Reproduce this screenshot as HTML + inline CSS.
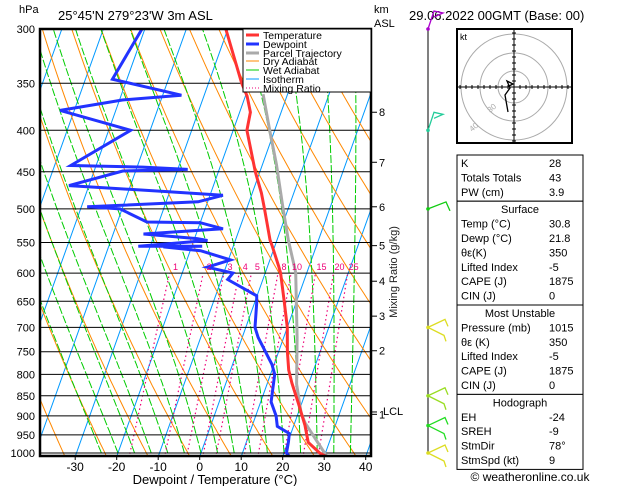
<!DOCTYPE html>
<html><head><meta charset="utf-8"><style>
body{margin:0;background:#fff}
svg{display:block;font-family:"Liberation Sans",sans-serif}
</style></head><body>
<svg id="c" width="629" height="486" viewBox="0 0 629 486">
<defs><clipPath id="pc"><rect x="40" y="29" width="331" height="428"/></clipPath></defs>
<g id="bg" clip-path="url(#pc)"></g>
<g id="grid"></g>
<g id="prof" clip-path="url(#pc)"></g>
<rect x="40" y="29" width="331" height="427" fill="none" stroke="#000" stroke-width="2.5"/>
<g id="axes"></g>
<text x="19" y="13" font-size="11">hPa</text>
<text x="58" y="20" font-size="13">25°45'N  279°23'W  3m  ASL</text>
<text x="374" y="13" font-size="11">km</text>
<text x="374" y="27" font-size="11">ASL</text>
<text x="409" y="20" font-size="13">29.06.2022  00GMT  (Base: 00)</text>
<text x="215" y="484" font-size="13" text-anchor="middle">Dewpoint / Temperature (°C)</text>
<text transform="translate(397,272) rotate(-90)" font-size="11" text-anchor="middle" fill="#222">Mixing Ratio (g/kg)</text>
<g>
<rect x="243" y="29" width="128" height="63" fill="#fff" stroke="#000" stroke-width="1"/>
<g font-size="10.5">
<line x1="246" y1="35" x2="259" y2="35" stroke="#f33" stroke-width="3"/><text x="263" y="39">Temperature</text>
<line x1="246" y1="44" x2="259" y2="44" stroke="#23f" stroke-width="3"/><text x="263" y="48">Dewpoint</text>
<line x1="246" y1="53" x2="259" y2="53" stroke="#aaa" stroke-width="3"/><text x="263" y="57">Parcel Trajectory</text>
<line x1="246" y1="61" x2="259" y2="61" stroke="#f80" stroke-width="1"/><text x="263" y="65">Dry Adiabat</text>
<line x1="246" y1="70" x2="259" y2="70" stroke="#0c0" stroke-width="1"/><text x="263" y="74">Wet Adiabat</text>
<line x1="246" y1="79" x2="259" y2="79" stroke="#09f" stroke-width="1"/><text x="263" y="83">Isotherm</text>
<line x1="246" y1="88" x2="259" y2="88" stroke="#e07" stroke-width="1" stroke-dasharray="1,2"/><text x="263" y="92">Mixing Ratio</text>
</g></g>
<g id="winds"></g>
<g id="hodo"></g>
<g id="tbl"></g>
<text x="530" y="481" font-size="12" text-anchor="middle">© weatheronline.co.uk</text>
</svg>
<script>
// ---- data ----
const tempP=[300,350,363,380,400,450,478,500,546,556,588,600,650,700,750,790,820,870,925,970,1000,1012];
const tempT=[-30.5,-22.0,-19.6,-17.4,-16.7,-11.1,-7.8,-5.7,-1.7,-0.6,2.6,3.7,7.0,10.0,12.1,14.0,15.9,19.3,22.7,24.9,28.6,30.8];
const dewP=[300,346,362,367,378,400,442,444,447,449,468,476,481,490,497,500,519,520,529,537,544,547,556,556,557,563,578,590,600,611,640,653,700,720,778,800,865,900,927,946,968,1000,1012];
const dewT=[-50.7,-53.5,-35.5,-49.3,-63.4,-44.7,-56.1,-38.6,-27.6,-43.1,-54.8,-30.7,-16.9,-22.3,-48.6,-40.5,-32.9,-20.0,-14.0,-32.7,-19.4,-16.7,-32.9,-17.5,-26.8,-17.5,-9.5,-14.5,-7.8,-8.5,-0.1,0.5,2.2,3.8,9.5,11.0,12.5,14.9,16.1,19.6,20.1,20.6,21.8];
const parP=[1012,918,893,822,720,599,546,499,441,400,361];
const parT=[30.8,22.5,20.7,17.1,13.2,7.3,2.7,-1.3,-6.6,-11.2,-15.9];
const pLevels=[300,350,400,450,500,550,600,650,700,750,800,850,900,950,1000];
const tTicks=[-30,-20,-10,0,10,20,30,40];
const kmLabels=["8","7","6","5","4","3","2","1"];
const kmP=[380,438,497,555,614,678,748,896];
const mixR=[1,2,3,4,5,8,10,15,20,25];
const windP=[300,400,500,700,850,925,1000];
const windCol=["#a0c","#2c9","#1c1","#dd2","#9d2","#2d2","#dd2"];
const tblRows1=[["K","28"],["Totals Totals","43"],["PW (cm)","3.9"]];
const tblRows2=[["Temp (°C)","30.8"],["Dewp (°C)","21.8"],["θε(K)","350"],["Lifted Index","-5"],["CAPE (J)","1875"],["CIN (J)","0"]];
const tblRows3=[["Pressure (mb)","1015"],["θε (K)","350"],["Lifted Index","-5"],["CAPE (J)","1875"],["CIN (J)","0"]];
const tblRows4=[["EH","-24"],["SREH","-9"],["StmDir","78°"],["StmSpd (kt)","9"]];
// ---- axis functions ----
const NS="http://www.w3.org/2000/svg";
const Y=p=>29+Math.log(p/300)/Math.log(1000/300)*424;
const X=(t,p)=>201+4.15*t+0.357*(453-Y(p));
function mk(tag,a,par){const e=document.createElementNS(NS,tag);for(const k in a)e.setAttribute(k,a[k]);par.appendChild(e);return e;}
const bg=document.getElementById('bg');
function poly(pts,attrs,par){return mk('polyline',Object.assign({points:pts.map(q=>q[0].toFixed(1)+','+q[1].toFixed(1)).join(' '),fill:'none'},attrs),par);}
// isotherms
for(let t=-110;t<=40;t+=10){const l=poly([[X(t,1015),Y(1015)],[X(t,290),Y(290)]],{stroke:'#09f','stroke-width':1},bg);

}
// dry adiabats
for(let th=240;th<=500;th+=10){const pts=[];for(let p=1015;p>=290;p-=10)pts.push([X(th*Math.pow(p/1000,0.286)-273.15,p),Y(p)]);
const l=poly(pts,{stroke:'#f80','stroke-width':1},bg);

}
// wet adiabats
function es(T){return 6.112*Math.exp(17.67*T/(T+243.5));}
for(let t0=-24;t0<=36;t0+=4){let T=t0+273.15;const pts=[];let p=1015;
 T=t0+273.15+ (1015-1000)*0; 
 for(p=1000;p>=290;p-=5){const tc=T-273.15;pts.push([X(tc,p),Y(p)]);const rs=0.622*es(tc)/(p-es(tc));
  const dTdp=(287*T+2.5e6*rs)/(p*(1004+2.5e6*2.5e6*rs*0.622/(287*T*T)));T-=dTdp*5;}
 const l=poly(pts,{stroke:'#0c0','stroke-width':1,'stroke-dasharray':'8,2'},bg);
 
 }
// mixing ratio
function tdw(w,p){const e=w*p/(622+w);const a=Math.log(e/6.112);return 243.5*a/(17.67-a);}
mixR.forEach(w=>{const l=poly([[X(tdw(w,1015),1015),Y(1015)],[X(tdw(w,600),600),Y(600)]],{stroke:'#e07','stroke-width':1.2,'stroke-dasharray':'1.5,3'},bg);
 
 
 const t=mk('text',{x:X(tdw(w,600),600)+6,y:Y(600)-3,'font-size':9,fill:'#e07','text-anchor':'middle'},document.getElementById('c'));
 t.textContent=w;
 
 });
// pressure grid & labels
const grid=document.getElementById('grid'),axes=document.getElementById('axes');
pLevels.forEach(p=>{const l=mk('line',{x1:40,x2:371,y1:Y(p),y2:Y(p),stroke:'#000','stroke-width':1},grid);
 
 
 const t=mk('text',{x:35,y:Y(p)+4,'font-size':11,'text-anchor':'end'},axes);t.textContent=p;
 
 });
tTicks.forEach(v=>{const x=201+4.15*v-1.3;mk('line',{x1:x,x2:x,y1:456,y2:460,stroke:'#000'},axes);
 const t=mk('text',{x:x,y:471,'font-size':12,'text-anchor':'middle'},axes);t.textContent=v;
 
 });
kmLabels.forEach((k,i)=>{const y=Y(kmP[i]);mk('line',{x1:371,x2:377,y1:y,y2:y,stroke:'#000'},axes);
 const t=mk('text',{x:379,y:y+4,'font-size':11},axes);t.textContent=k;
 
 });
{const y=Y(890);mk('line',{x1:371,x2:377,y1:y,y2:y,stroke:'#000'},axes);const t=mk('text',{x:383,y:y+3,'font-size':11},axes);t.textContent='LCL';
 
 }
// profiles
const prof=document.getElementById('prof');
let l=poly(parP.map((p,i)=>[X(parT[i],p),Y(p)]),{stroke:'#aaa','stroke-width':3},prof);


l=poly(tempP.map((p,i)=>[X(tempT[i],p),Y(p)]),{stroke:'#f33','stroke-width':3},prof);


l=poly(dewP.map((p,i)=>[X(dewT[i],p),Y(p)]),{stroke:'#23f','stroke-width':3},prof);


// winds
const wg=document.getElementById('winds');
mk('line',{x1:428,x2:428,y1:Y(300),y2:Y(1000),stroke:'#000','stroke-width':1},wg);
windP.forEach((p,i)=>{const y=Y(p),c=windCol[i];
 const g=mk('g',{stroke:c,fill:'none','stroke-width':1.3},wg);
 
 
 mk('circle',{cx:428,cy:y,r:1.8,fill:c,stroke:'none'},g);
 if(i<2){mk('polyline',{points:`428,${y} 434,${y-18} 443,${y-16} 434,${y-12}`},g);}
 else if(i===2){mk('polyline',{points:`428,${y} 446,${y-7} 450,${y+2} M`.replace(' M','')},g);}
 else{mk('polyline',{points:`428,${y} 445,${y-8} 448,${y-1}`},g);mk('polyline',{points:`428,${y} 444,${y+8} 446,${y+14}`},g);}
});
// hodograph
const hg=document.getElementById('hodo');
const cx=514,cy=87;
mk('rect',{x:457,y:29,width:115,height:114,fill:'#fff',stroke:'#000','stroke-width':2},hg);
[16,34,53].forEach(r=>mk('circle',{cx,cy,r,fill:'none',stroke:'#aaa'},hg));
mk('line',{x1:458,x2:571,y1:cy,y2:cy,stroke:'#000'},hg);mk('line',{x1:cx,x2:cx,y1:30,y2:142,stroke:'#000'},hg);
for(let d=-54;d<=54;d+=6){if(!d)continue;mk('line',{x1:cx+d,x2:cx+d,y1:cy-2,y2:cy+2,stroke:'#000'},hg);mk('line',{x1:cx-2,x2:cx+2,y1:cy+d,y2:cy+d,stroke:'#000'},hg);}
mk('polyline',{points:`508,112 505,95 510,88 507,81 513,84 509,86`,fill:'none',stroke:'#000','stroke-width':1.3},hg);
let tt=mk('text',{x:460,y:40,'font-size':9},hg);tt.textContent='kt';
tt=mk('text',{x:490,y:113,'font-size':8,fill:'#aaa',transform:'rotate(-40 490 113)'},hg);tt.textContent='30';
tt=mk('text',{x:472,y:132,'font-size':8,fill:'#aaa',transform:'rotate(-40 472 132)'},hg);tt.textContent='40';
// table
const tb=document.getElementById('tbl');
function section(y0,title,rows){const h=(title?1:0)*14.4+rows.length*14.4+3;
 mk('rect',{x:457,y:y0,width:126,height:h,fill:'#fff',stroke:'#000'},tb);let y=y0+12;
 if(title){const t=mk('text',{x:520,y:y,'font-size':11,'text-anchor':'middle'},tb);t.textContent=title;y+=14.4;}
 rows.forEach(r=>{const a=mk('text',{x:461,y:y,'font-size':11},tb);a.textContent=r[0];const b=mk('text',{x:549,y:y,'font-size':11},tb);b.textContent=r[1];y+=14.4;});
 return y0+h;}
let yy=section(155,null,tblRows1);yy=section(yy,'Surface',tblRows2);yy=section(yy,'Most Unstable',tblRows3);section(yy,'Hodograph',tblRows4);
</script>
</body></html>
